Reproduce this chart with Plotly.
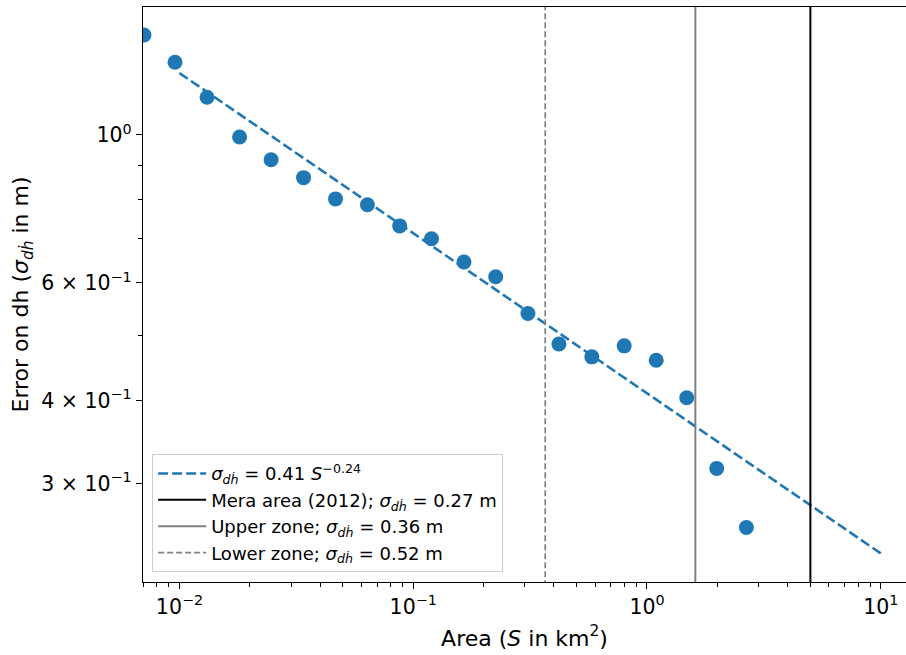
import numpy as np
import plotly.graph_objects as go

# ---- data ----
area_km2 = [0.00705, 0.00957, 0.01312, 0.01808, 0.02466, 0.03395, 0.04652, 0.0637,
            0.0875, 0.1197, 0.1648, 0.2253, 0.3096, 0.4200, 0.5808, 0.799,
            1.095, 1.479, 1.987, 2.662]
sigma_dh = [1.412, 1.285, 1.139, 0.993, 0.918, 0.863, 0.802, 0.786,
            0.7306, 0.699, 0.645, 0.613, 0.540, 0.486, 0.465, 0.483,
            0.4595, 0.4037, 0.3164, 0.2581]

# fitted power law sigma = 0.41 S^-0.24 (endpoints of the drawn line)
fit_area = [0.01, 10.0]
fit_sigma = [1.238, 0.236]

# reference areas (vertical lines)
mera_area = 5.0
upper_area = 1.61
lower_area = 0.367

x_tickvals = [0.01, 0.1, 1, 10]
x_ticktext = ["10<sup>−2</sup>", "10<sup>−1</sup>", "10<sup>0</sup>", "10<sup>1</sup>"]
y_tickvals = [0.3, 0.4, 0.6, 1.0]
y_ticktext = ["3 × 10<sup>−1</sup>", "4 × 10<sup>−1</sup>", "6 × 10<sup>−1</sup>", "10<sup>0</sup>"]

x_minor = [m * 10.0 ** k for k in (-3, -2, -1, 0, 1) for m in range(2, 10)]
y_minor = [0.5, 0.7, 0.8, 0.9]

SIG = "<i>σ<sub>dḣ</sub></i>"
FONT = "DejaVu Sans"
BLUE = "#1f77b4"
YSPAN = [0.1, 3.0]

fig = go.Figure()

fig.add_trace(go.Scatter(
    x=fit_area, y=fit_sigma, mode="lines",
    line=dict(color=BLUE, width=2.6, dash="10px,4px"),
    name=f"{SIG} = 0.41 <i>S</i><sup>−0.24</sup>"))
fig.add_trace(go.Scatter(
    x=[mera_area, mera_area], y=YSPAN, mode="lines",
    line=dict(color="black", width=2),
    name=f"Mera area (2012); {SIG} = 0.27 m"))
fig.add_trace(go.Scatter(
    x=[upper_area, upper_area], y=YSPAN, mode="lines",
    line=dict(color="#808080", width=2),
    name=f"Upper zone; {SIG} = 0.36 m"))
fig.add_trace(go.Scatter(
    x=[lower_area, lower_area], y=YSPAN, mode="lines",
    line=dict(color="#808080", width=1.7, dash="6px,3px"),
    name=f"Lower zone; {SIG} = 0.52 m"))
fig.add_trace(go.Scatter(
    x=area_km2, y=sigma_dh, mode="markers",
    marker=dict(color=BLUE, size=15, line=dict(width=0)),
    showlegend=False, cliponaxis=True))

fig.update_layout(
    width=906, height=655,
    margin=dict(l=143, r=0, t=7, b=73, autoexpand=False),
    paper_bgcolor="white", plot_bgcolor="white",
    font=dict(family=FONT, size=18.5, color="black"),
    showlegend=True,
    legend=dict(x=0.012, y=0.017, xanchor="left", yanchor="bottom",
                bgcolor="rgba(255,255,255,0.8)", bordercolor="#cccccc",
                borderwidth=1, font=dict(size=18), tracegroupgap=0,
                itemwidth=48),
)

fig.update_xaxes(
    type="log", range=[-2.156, 1.108], automargin=False,
    showgrid=False, zeroline=False,
    showline=True, linecolor="black", linewidth=1.4, mirror=True,
    ticks="outside", ticklen=6, tickwidth=1.4, tickcolor="black",
    tickfont=dict(size=20.5),
    tickmode="array", tickvals=x_tickvals, ticktext=x_ticktext,
    minor=dict(tickmode="array", tickvals=x_minor, ticks="outside",
               ticklen=3.5, tickwidth=1.2, tickcolor="black", showgrid=False),
    title=dict(text="Area (<i>S</i> in km<sup>2</sup>)", standoff=12),
)
fig.update_yaxes(
    type="log", range=[-0.670, 0.1918], automargin=False,
    showgrid=False, zeroline=False,
    showline=True, linecolor="black", linewidth=1.4, mirror=False,
    ticks="outside", ticklen=6, tickwidth=1.4, tickcolor="black",
    tickfont=dict(size=20.5),
    tickmode="array", tickvals=y_tickvals, ticktext=y_ticktext,
    minor=dict(tickmode="array", tickvals=y_minor, ticks="outside",
               ticklen=3.5, tickwidth=1.2, tickcolor="black", showgrid=False),
    title=dict(text=f"Error on dh ({SIG} in m)", standoff=6),
)

fig.write_html("out.html", config={"displayModeBar": False},
               post_script="document.body.style.margin='0';document.body.style.padding='0';")
